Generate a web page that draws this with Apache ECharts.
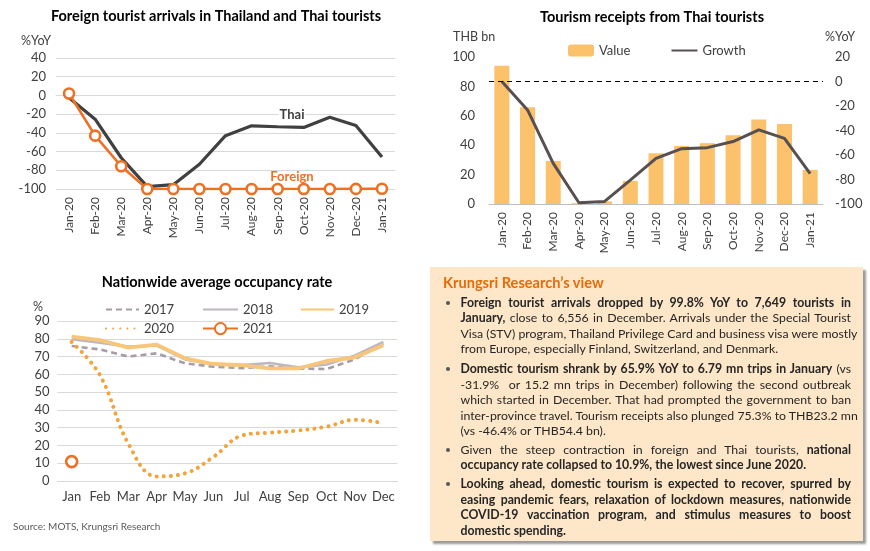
<!DOCTYPE html>
<html>
<head>
<meta charset="utf-8">
<script src="https://cdn.jsdelivr.net/npm/echarts@6/dist/echarts.min.js"></script>
<style>
  html, body { margin:0; padding:0; background:#fff; }
  #wrap { position:relative; width:870px; height:551px; overflow:hidden; }
  #chart { position:absolute; left:0; top:0; width:870px; height:551px; }
  #box { position:absolute; left:430px; top:267px; width:433px; height:274px;
         background:#FDE7C8; box-shadow:3px 3px 2px #9a9a9a;
         font-family: Lato, "Liberation Sans", sans-serif; color:#262626; }
  #box .ttl { position:absolute; left:13px; top:7px; font-size:14.6px; font-weight:bold; color:#E46C0A; }
  #box .p { position:absolute; left:30.5px; width:390.5px; font-size:12.3px; line-height:15.4px; }
  #box .p::before { content:''; position:absolute; left:-15px; top:6px; width:4px; height:4px; border-radius:50%; background:#555; }
  #box .l { text-align:justify; text-align-last:justify; white-space:nowrap; }
  #box .e { text-align:left; text-align-last:left; white-space:nowrap; }
  #box b { font-weight:bold; }
</style>
</head>
<body>
<div id="wrap">
  <div id="chart"></div>
  <div id="box">
    <div class="ttl">Krungsri Research’s view</div>
    <div class="p" style="top:28px">
      <div class="l"><b>Foreign tourist arrivals dropped by 99.8% YoY to 7,649 tourists in</b></div>
      <div class="l"><b>January,</b> close to 6,556 in December. Arrivals under the Special Tourist</div>
      <div class="l">Visa (STV) program, Thailand Privilege Card and business visa were mostly</div>
      <div class="e">from Europe, especially Finland, Switzerland, and Denmark.</div>
    </div>
    <div class="p" style="top:94.3px">
      <div class="l"><b>Domestic tourism shrank by 65.9% YoY to 6.79 mn trips in January</b> (vs</div>
      <div class="l">-31.9%&nbsp; or 15.2 mn trips in December) following the second outbreak</div>
      <div class="l">which started in December. That had prompted the government to ban</div>
      <div class="l">inter-province travel. Tourism receipts also plunged 75.3% to THB23.2 mn</div>
      <div class="e">(vs -46.4% or THB54.4 bn).</div>
    </div>
    <div class="p" style="top:174.6px">
      <div class="l">Given the steep contraction in foreign and Thai tourists, <b>national</b></div>
      <div class="e"><b>occupancy rate collapsed to 10.9%, the lowest since June 2020.</b></div>
    </div>
    <div class="p" style="top:209.3px">
      <div class="l"><b>Looking ahead, domestic tourism is expected to recover, spurred by</b></div>
      <div class="l"><b>easing pandemic fears, relaxation of lockdown measures, nationwide</b></div>
      <div class="l"><b>COVID-19 vaccination program, and stimulus measures to boost</b></div>
      <div class="e"><b>domestic spending.</b></div>
    </div>
  </div>
</div>
<script>
// ---------- data ----------
const months13 = ['Jan-20','Feb-20','Mar-20','Apr-20','May-20','Jun-20','Jul-20','Aug-20','Sep-20','Oct-20','Nov-20','Dec-20','Jan-21'];
const thaiYoY = [-2.6,-25.4,-66.6,-97.5,-95.4,-73.6,-43,-32.5,-33.5,-34.2,-23.3,-32.1,-65.9];
const foreignYoY = [2,-43,-75.7,-100,-100,-100,-100,-100,-100,-100,-100,-99.9,-99.8];

const receiptsValue = [94.1,65.9,29.3,0.5,1.8,15.7,34.5,39.5,41.4,46.8,57.5,54.4,23.2];
const receiptsGrowth = [0,-23.2,-66.8,-99,-97.9,-80.5,-62.7,-54.8,-54,-49,-39.5,-46.4,-75.3];

const monthsShort = ['Jan','Feb','Mar','Apr','May','Jun','Jul','Aug','Sep','Oct','Nov','Dec'];
const occ2017 = [75.9,74,70,71.8,66.2,64.3,63.5,64.5,63.2,63,68.5,77.4];
const occ2018 = [79.7,77.8,75.6,76.2,68.4,65.6,65.2,66.4,63.9,65.5,70.6,78.3];
const occ2019 = [81.2,79.3,75,76.7,69,65.8,65.2,63.3,63.3,67.5,69.6,76.3];
const occ2020 = [78.2,59.5,21,2.6,4.3,13.5,25.5,27.2,28.4,30.6,34.4,32.5];
const occ2021 = [10.9];

const yTicksYoY = {min:-100, max:40, interval:20};
const yTicksValue = {min:0, max:100, interval:20};
const yTicksGrowth = {min:-100, max:20, interval:20};
const yTicksOcc = {min:0, max:90, interval:10};

// ---------- chart ----------
const FONT = 'Lato, "Liberation Sans", sans-serif';
const TXT = '#404040';
const GRID = '#D9D9D9';
const chart = echarts.init(document.getElementById('chart'), null, {renderer:'canvas'});

function txt(x, y, text, opts) {
  return {type:'text', x:x, y:y, z:100, style:Object.assign({
    text:text, fill:TXT, font:'13px ' + FONT, textAlign:'left', textVerticalAlign:'middle'
  }, opts || {})};
}
const LEG_TXT = {fontSize:13, color:TXT, fontFamily:FONT};
const hideSym = {opacity:0};

const option = {
  animation:false,
  textStyle:{fontFamily:FONT},
  graphic:[
    txt(216, 16, 'Foreign tourist arrivals in Thailand and Thai tourists', {font:'bold 14.5px ' + FONT, fill:'#000', textAlign:'center'}),
    txt(652, 17, 'Tourism receipts from Thai tourists', {font:'bold 14.5px ' + FONT, fill:'#000', textAlign:'center'}),
    txt(217, 282, 'Nationwide average occupancy rate', {font:'bold 14.5px ' + FONT, fill:'#000', textAlign:'center'}),
    txt(21, 41, '%YoY', {font:'12.5px ' + FONT}),
    txt(453, 37, 'THB bn', {font:'12.5px ' + FONT}),
    txt(825, 37, '%YoY', {font:'12.5px ' + FONT}),
    txt(33, 307, '%', {font:'12.5px ' + FONT}),
    txt(292, 115, 'Thai', {font:'bold 13px ' + FONT, fill:'#404040', textAlign:'center', backgroundColor:'#fff', padding:[0,1]}),
    txt(292, 177, 'Foreign', {font:'bold 13px ' + FONT, fill:'#EE7024', textAlign:'center'}),
    txt(13, 527, 'Source: MOTS, Krungsri Research', {font:'10px ' + FONT, fill:'#595959'})
  ],
  legend:[
    {data:[{name:'Value'}, {name:'Growth', itemStyle:hideSym}], left:568, top:44, padding:0,
     itemWidth:26, itemHeight:12, itemGap:40, textStyle:LEG_TXT},
    {data:['2017'], left:105, top:303, padding:0, itemWidth:33, itemHeight:14, itemStyle:hideSym, textStyle:LEG_TXT},
    {data:['2018'], left:202, top:303, padding:0, itemWidth:35, itemHeight:14, itemStyle:hideSym, textStyle:LEG_TXT},
    {data:['2019'], left:300, top:303, padding:0, itemWidth:33, itemHeight:14, itemStyle:hideSym, textStyle:LEG_TXT},
    {data:['2020'], left:105, top:322, padding:0, itemWidth:33, itemHeight:14, itemStyle:hideSym, textStyle:LEG_TXT},
    {data:['2021'], left:202, top:322, padding:0, itemWidth:35, itemHeight:14, textStyle:LEG_TXT}
  ],
  grid:[
    {left:56, top:58, width:339, height:131},
    {left:489, top:57, width:334, height:147},
    {left:57.5, top:321, width:340, height:160}
  ],
  xAxis:[
    {type:'category', gridIndex:0, data:months13, boundaryGap:true,
     axisLine:{show:true, lineStyle:{color:GRID}}, axisTick:{show:false},
     axisLabel:{rotate:90, fontSize:12, color:TXT, margin:8, interval:0}},
    {type:'category', gridIndex:1, data:months13, boundaryGap:true,
     axisLine:{show:true, lineStyle:{color:'#BFBFBF'}}, axisTick:{show:false},
     axisLabel:{rotate:90, fontSize:12, color:TXT, margin:8, interval:0}},
    {type:'category', gridIndex:2, data:monthsShort, boundaryGap:true,
     axisLine:{show:true, lineStyle:{color:GRID}}, axisTick:{show:false},
     axisLabel:{fontSize:13, color:TXT, margin:9, interval:0}}
  ],
  yAxis:[
    Object.assign({type:'value', gridIndex:0, axisLine:{show:false}, axisTick:{show:false},
     splitLine:{lineStyle:{color:GRID, width:1}},
     axisLabel:{fontSize:13, color:TXT, margin:10}}, yTicksYoY),
    Object.assign({type:'value', gridIndex:1, position:'left', axisLine:{show:false}, axisTick:{show:false},
     splitLine:{show:false},
     axisLabel:{fontSize:13, color:TXT, margin:14}}, yTicksValue),
    Object.assign({type:'value', gridIndex:1, position:'right', axisLine:{show:false}, axisTick:{show:false},
     splitLine:{show:false},
     axisLabel:{fontSize:13, color:TXT, margin:12}}, yTicksGrowth),
    Object.assign({type:'value', gridIndex:2, axisLine:{show:false}, axisTick:{show:false},
     splitLine:{lineStyle:{color:GRID, width:1}},
     axisLabel:{fontSize:13, color:TXT, margin:8}}, yTicksOcc)
  ],
  series:[
    {name:'Thai', type:'line', xAxisIndex:0, yAxisIndex:0, data:thaiYoY, symbol:'none',
     lineStyle:{color:'#404040', width:3.2}, itemStyle:{color:'#404040'}, z:3},
    {name:'Foreign', type:'line', xAxisIndex:0, yAxisIndex:0, data:foreignYoY,
     symbol:'circle', symbolSize:10,
     lineStyle:{color:'#EE7024', width:2.6},
     itemStyle:{color:'#FFFFFF', borderColor:'#EE7024', borderWidth:2.6}, z:4},

    {name:'Value', type:'bar', xAxisIndex:1, yAxisIndex:1, data:receiptsValue, barWidth:15,
     itemStyle:{color:'#FBC16B'}},
    {name:'Growth', type:'line', xAxisIndex:1, yAxisIndex:2, data:receiptsGrowth, symbol:'none',
     lineStyle:{color:'#585050', width:3}, itemStyle:{color:'#585050'}, z:4,
     markLine:{silent:true, symbol:['none','none'], label:{show:false},
       lineStyle:{color:'#000', type:[5,4], width:1},
       data:[{yAxis:0}]}},

    {name:'2017', type:'line', xAxisIndex:2, yAxisIndex:3, data:occ2017, symbol:'none',
     lineStyle:{color:'#A89CA6', width:2.6, type:[6,4]}, itemStyle:{color:'#A89CA6'}},
    {name:'2018', type:'line', xAxisIndex:2, yAxisIndex:3, data:occ2018, symbol:'none',
     lineStyle:{color:'#BEB8BE', width:2.6}, itemStyle:{color:'#BEB8BE'}},
    {name:'2019', type:'line', xAxisIndex:2, yAxisIndex:3, data:occ2019, symbol:'none',
     lineStyle:{color:'#F8C679', width:3.8}, itemStyle:{color:'#F8C679'}},
    {name:'2020', type:'line', xAxisIndex:2, yAxisIndex:3, data:occ2020, symbol:'none', smooth:0.4,
     lineStyle:{color:'#F2A43A', width:4, type:[0.1,7], cap:'round'}, itemStyle:{color:'#F2A43A'}},
    {name:'2021', type:'line', xAxisIndex:2, yAxisIndex:3, data:occ2021,
     symbol:'circle', symbolSize:11,
     lineStyle:{color:'#EE7024', width:3},
     itemStyle:{color:'#FFFFFF', borderColor:'#EE7024', borderWidth:2.6}}
  ]
};
chart.setOption(option);
</script>
</body>
</html>
